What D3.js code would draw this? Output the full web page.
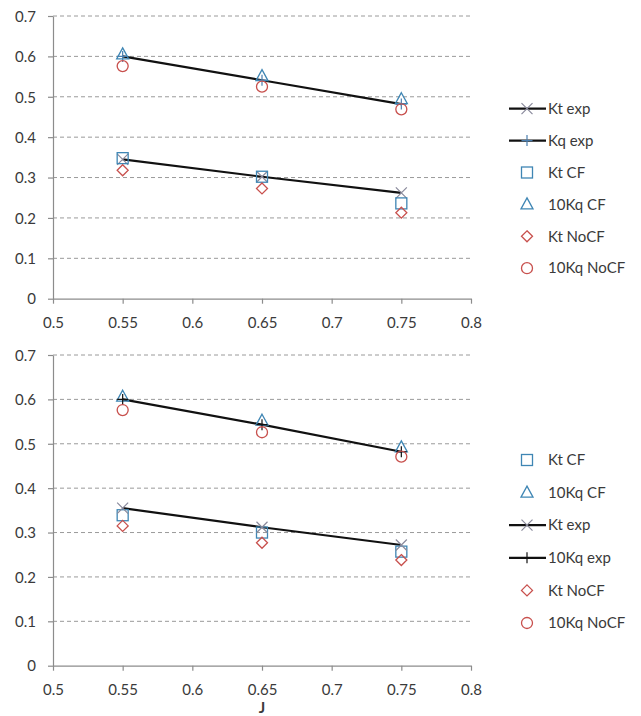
<!DOCTYPE html>
<html><head><meta charset="utf-8">
<script src="https://cdn.jsdelivr.net/npm/d3@7"></script>
<style>body{margin:0;background:#fff}svg{display:block}text{font-family:Lato,"Open Sans",sans-serif;fill:#3a3a3a}</style>
</head><body>
<svg id="c" width="641" height="716"></svg>
<script>
const J = [0.55, 0.65, 0.75];
const xTicks = [0.5, 0.55, 0.6, 0.65, 0.7, 0.75, 0.8];
const yTicks = [0, 0.1, 0.2, 0.3, 0.4, 0.5, 0.6, 0.7];

// top chart series
const topKtExp = [0.345, 0.302, 0.262];
const topKqExp = [0.600, 0.541, 0.482];
const topKtCF = [0.348, 0.302, 0.236];
const top10KqCF = [0.605, 0.551, 0.494];
const topKtNoCF = [0.318, 0.273, 0.213];
const top10KqNoCF = [0.576, 0.525, 0.469];

// bottom chart series
const botKtCF = [0.339, 0.300, 0.257];
const bot10KqCF = [0.606, 0.552, 0.492];
const botKtExp = [0.355, 0.312, 0.272];
const bot10KqExp = [0.600, 0.543, 0.482];
const botKtNoCF = [0.315, 0.277, 0.238];
const bot10KqNoCF = [0.576, 0.526, 0.471];

const BLUE = "#3f86b4", RED = "#c8504d", GRAYX = "#8a8a9c";

const svg = d3.select("#c");

function marker(g, type, x, y, color) {
  const s = 5.5;
  if (type === "square") g.append("rect").attr("x", x - s).attr("y", y - s).attr("width", 2*s).attr("height", 2*s).attr("fill", "none").attr("stroke", color).attr("stroke-width", 1.3);
  else if (type === "triangle") g.append("path").attr("d", `M${x},${y-s-1}L${x+s+0.5},${y+s-1}L${x-s-0.5},${y+s-1}Z`).attr("fill", "none").attr("stroke", color).attr("stroke-width", 1.3);
  else if (type === "diamond") g.append("path").attr("d", `M${x},${y-s}L${x+s},${y}L${x},${y+s}L${x-s},${y}Z`).attr("fill", "none").attr("stroke", color).attr("stroke-width", 1.3);
  else if (type === "circle") g.append("circle").attr("cx", x).attr("cy", y).attr("r", s).attr("fill", "none").attr("stroke", color).attr("stroke-width", 1.3);
  else if (type === "x") g.append("path").attr("d", `M${x-s},${y-s}L${x+s},${y+s}M${x-s},${y+s}L${x+s},${y-s}`).attr("stroke", color).attr("stroke-width", 1.2);
  else if (type === "plus") g.append("path").attr("d", `M${x-s},${y}L${x+s},${y}M${x},${y-s}L${x},${y+s}`).attr("stroke", color).attr("stroke-width", 1.2);
}

function chart(y0, y1, series, legendY, legendStep, showJ) {
  const x = d3.scaleLinear().domain([0.5, 0.8]).range([53, 471]);
  const y = d3.scaleLinear().domain([0, 0.7]).range([y0, y1]);
  const g = svg.append("g");
  // grid
  g.selectAll(".grid").data(yTicks.filter(d => d > 0)).join("line")
    .attr("x1", 53).attr("x2", 471).attr("y1", d => y(d)).attr("y2", d => y(d))
    .attr("stroke", "#9a9a9a").attr("stroke-dasharray", "4,3").attr("stroke-width", 1);
  // axes
  const ax = g.append("g").attr("transform", `translate(0,${y0})`)
    .call(d3.axisBottom(x).tickValues(xTicks).tickFormat(d3.format("")).tickSize(5).tickSizeOuter(0));
  const ay = g.append("g").attr("transform", `translate(53,0)`)
    .call(d3.axisLeft(y).tickValues(yTicks).tickFormat(d3.format("")).tickSize(5).tickSizeOuter(0));
  [ax, ay].forEach(a => {
    a.select(".domain").attr("stroke", "#8c8c8c").attr("stroke-width", 1.2);
    a.selectAll(".tick line").attr("stroke", "#8c8c8c").attr("stroke-width", 1.2);
    a.selectAll(".tick text").attr("font-size", 15).attr("fill", "#3a3a3a").style("font-family", "Lato, sans-serif");
  });
  ax.selectAll(".tick text").attr("dy", "1.4em");
  ay.selectAll(".tick text").attr("x", -17).attr("dy", "0.35em");
  if (showJ) g.append("text").attr("x", x(0.65)).attr("y", y0 + 47).attr("text-anchor", "middle").attr("font-size", 15).attr("font-weight", "bold").text("J");

  const line = d3.line().x((d, i) => x(J[i])).y(d => y(d));
  series.filter(s => s.line).forEach(s => {
    g.append("path").datum(s.values).attr("d", line).attr("fill", "none").attr("stroke", "#111").attr("stroke-width", 2.2);
  });
  series.forEach(s => {
    s.values.forEach((v, i) => marker(g, s.type, x(J[i]), y(v), s.color));
  });
  // legend
  series.forEach((s, k) => {
    const ly = legendY + k * legendStep;
    if (s.line) g.append("line").attr("x1", 509).attr("x2", 546).attr("y1", ly).attr("y2", ly).attr("stroke", "#111").attr("stroke-width", 2.2);
    marker(g, s.type, 527, ly, s.color);
    g.append("text").attr("x", 548).attr("y", ly).attr("dy", "0.35em").attr("font-size", 15).text(s.name);
  });
}

chart(298.7, 16, [
  {name: "Kt exp", values: topKtExp, type: "x", color: GRAYX, line: true},
  {name: "Kq exp", values: topKqExp, type: "plus", color: "#4a7fb0", line: true},
  {name: "Kt CF", values: topKtCF, type: "square", color: BLUE},
  {name: "10Kq CF", values: top10KqCF, type: "triangle", color: BLUE},
  {name: "Kt NoCF", values: topKtNoCF, type: "diamond", color: RED},
  {name: "10Kq NoCF", values: top10KqNoCF, type: "circle", color: RED}
], 108.7, 31.9, false);

chart(665.7, 355, [
  {name: "Kt CF", values: botKtCF, type: "square", color: BLUE},
  {name: "10Kq CF", values: bot10KqCF, type: "triangle", color: BLUE},
  {name: "Kt exp", values: botKtExp, type: "x", color: GRAYX, line: true},
  {name: "10Kq exp", values: bot10KqExp, type: "plus", color: "#111", line: true},
  {name: "Kt NoCF", values: botKtNoCF, type: "diamond", color: RED},
  {name: "10Kq NoCF", values: bot10KqNoCF, type: "circle", color: RED}
], 460, 32.6, true);
</script>
</body></html>
